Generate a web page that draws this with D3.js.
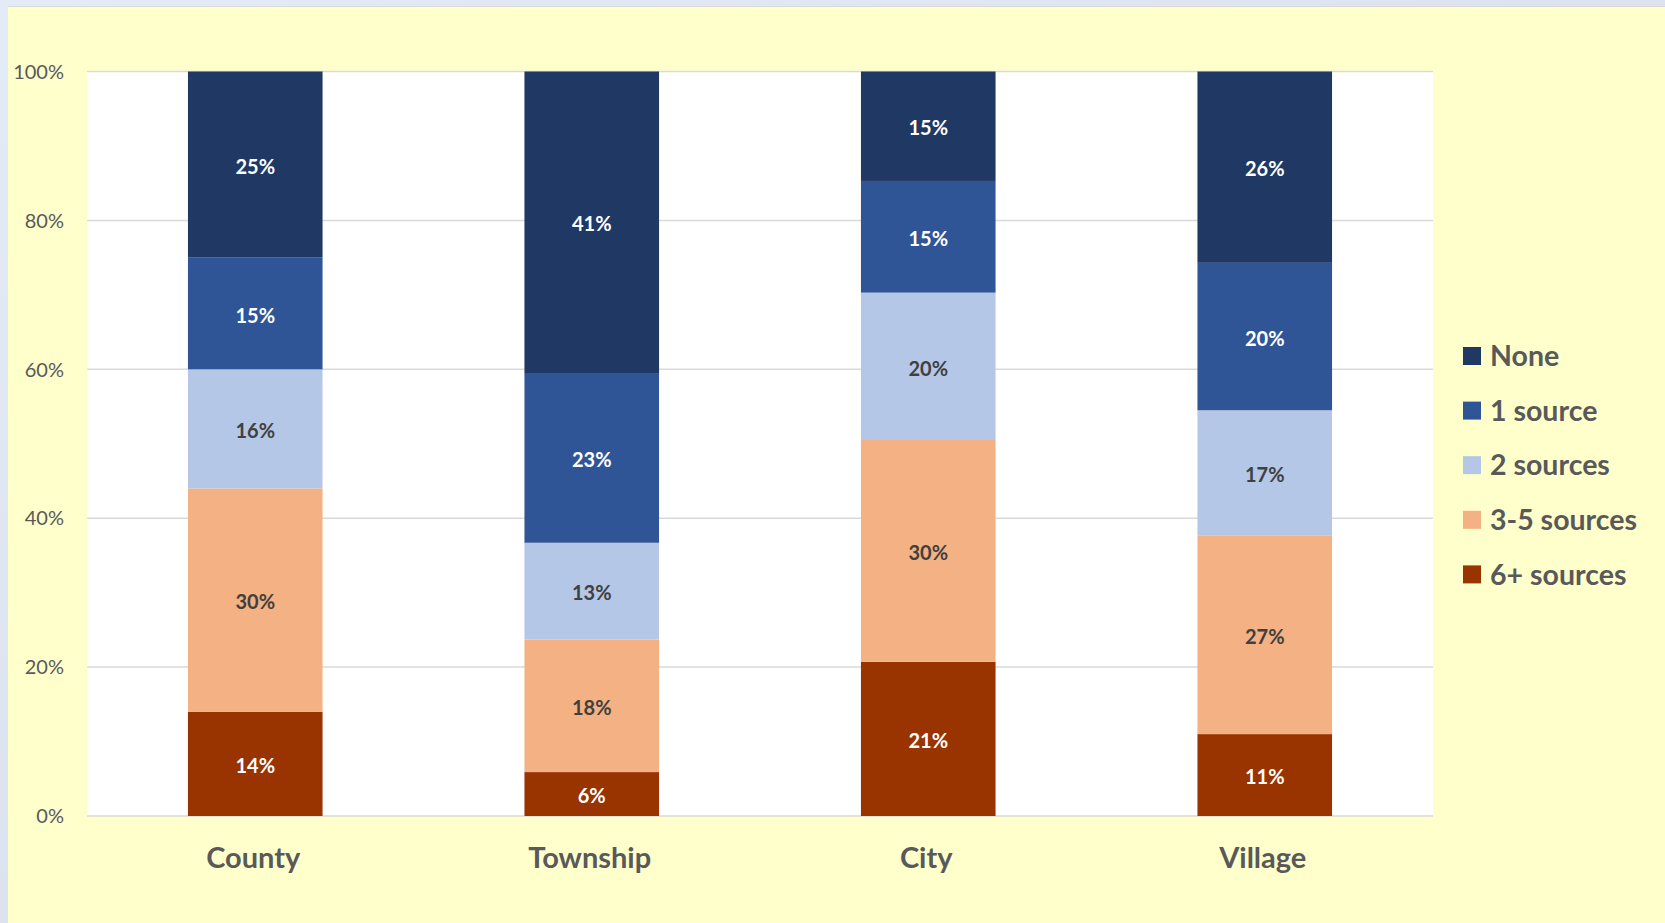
<!DOCTYPE html>
<html lang="en">
<head>
<meta charset="utf-8">
<title>Sources by jurisdiction</title>
<script src="https://cdn.jsdelivr.net/npm/d3@7"></script>
<style>
  body { margin: 0; background: #dfe6f1; }
  svg { display: block; font-family: "Lato", "Open Sans", sans-serif; }
</style>
</head>
<body>
<script>
// chart data (percent of each jurisdiction type)
var categories = ["County", "Township", "City", "Village"];
var seriesNames = ["6+ sources", "3-5 sources", "2 sources", "1 source", "None"];
var sixPlus   = [14, 5.9, 20.7, 11.0];
var threeFive = [30, 17.8, 29.8, 26.7];
var twoSrc    = [16, 13.0, 19.8, 16.8];
var oneSrc    = [15, 22.8, 15.0, 19.8];
var noneSrc   = [25, 40.5, 14.7, 25.7];
var yTicks = [0, 20, 40, 60, 80, 100];

var colors = {
  "None": "#203864",
  "1 source": "#2f5597",
  "2 sources": "#b4c7e7",
  "3-5 sources": "#f4b183",
  "6+ sources": "#993300"
};
var labelColors = {
  "None": "#ffffff",
  "1 source": "#ffffff",
  "2 sources": "#404040",
  "3-5 sources": "#404040",
  "6+ sources": "#ffffff"
};

var W = 1665, H = 923;
var plot = { left: 87, right: 1433, top: 71.5, bottom: 816 };

var rows = categories.map(function(c, i) {
  return {
    cat: c,
    "6+ sources": sixPlus[i],
    "3-5 sources": threeFive[i],
    "2 sources": twoSrc[i],
    "1 source": oneSrc[i],
    "None": noneSrc[i]
  };
});

var svg = d3.select("body").append("svg")
  .attr("width", W)
  .attr("height", H);

// outer frame
var grad = svg.append("defs").append("linearGradient")
  .attr("id", "frame").attr("x1", 0).attr("y1", 0).attr("x2", 1).attr("y2", 1);
grad.append("stop").attr("offset", "0%").attr("stop-color", "#e3ebf7");
grad.append("stop").attr("offset", "100%").attr("stop-color", "#d5dbe8");
svg.append("rect").attr("width", W).attr("height", H).attr("fill", "url(#frame)");
svg.append("rect").attr("x", 8).attr("y", 6).attr("width", W - 8).attr("height", H - 6)
  .attr("fill", "#d9d9d9");
svg.append("rect").attr("x", 8).attr("y", 7).attr("width", W - 8).attr("height", H - 7)
  .attr("fill", "#ffffcc");

var x = d3.scaleBand()
  .domain(categories)
  .range([plot.left, plot.right])
  .paddingInner(0.6)
  .paddingOuter(0.3);

var y = d3.scaleLinear()
  .domain([0, 100])
  .range([plot.bottom, plot.top]);

// plot area
svg.append("rect")
  .attr("x", plot.left).attr("y", plot.top)
  .attr("width", plot.right - plot.left).attr("height", plot.bottom - plot.top)
  .attr("fill", "#ffffff");

// gridlines
svg.append("g").selectAll("line")
  .data(yTicks)
  .join("line")
  .attr("x1", plot.left).attr("x2", plot.right)
  .attr("y1", function(d) { return y(d); })
  .attr("y2", function(d) { return y(d); })
  .attr("stroke", "#d9d9d9")
  .attr("stroke-width", 1.5);

// y axis labels
svg.append("g").selectAll("text")
  .data(yTicks)
  .join("text")
  .attr("x", 64)
  .attr("y", function(d) { return y(d); })
  .attr("dy", "0.36em")
  .attr("text-anchor", "end")
  .attr("font-size", 20)
  .attr("fill", "#595959")
  .text(function(d) { return d + "%"; });

// stacked bars
var stack = d3.stack().keys(seriesNames)(rows);

var layer = svg.append("g").selectAll("g")
  .data(stack)
  .join("g")
  .attr("fill", function(s) { return colors[s.key]; });

layer.selectAll("rect")
  .data(function(s) { return s; })
  .join("rect")
  .attr("x", function(d) { return x(d.data.cat); })
  .attr("y", function(d) { return y(d[1]); })
  .attr("width", x.bandwidth())
  .attr("height", function(d) { return y(d[0]) - y(d[1]); });

layer.selectAll("text")
  .data(function(s) { return s.map(function(d) { d.key = s.key; return d; }); })
  .join("text")
  .attr("x", function(d) { return x(d.data.cat) + x.bandwidth() / 2; })
  .attr("y", function(d) { return (y(d[0]) + y(d[1])) / 2; })
  .attr("dy", "0.46em")
  .attr("text-anchor", "middle")
  .attr("font-size", 20)
  .attr("font-weight", "bold")
  .attr("fill", function(d) { return labelColors[d.key]; })
  .text(function(d) { return Math.round(d[1] - d[0]) + "%"; });

// category labels
svg.append("g").selectAll("text")
  .data(categories)
  .join("text")
  .attr("x", function(d) { return x(d) + x.bandwidth() / 2 - 2; })
  .attr("y", 868)
  .attr("text-anchor", "middle")
  .attr("font-size", 29)
  .attr("font-weight", "bold")
  .attr("fill", "#595959")
  .text(function(d) { return d; });

// legend
var legendItems = seriesNames.slice().reverse();
var legend = svg.append("g").selectAll("g")
  .data(legendItems)
  .join("g")
  .attr("transform", function(d, i) { return "translate(1463," + (356 + i * 54.6) + ")"; });

legend.append("rect")
  .attr("x", 0).attr("y", -9)
  .attr("width", 18).attr("height", 18)
  .attr("fill", function(d) { return colors[d]; });

legend.append("text")
  .attr("x", 27)
  .attr("dy", "0.36em")
  .attr("font-size", 28.5)
  .attr("font-weight", "bold")
  .attr("fill", "#595959")
  .text(function(d) { return d; });
</script>
</body>
</html>
